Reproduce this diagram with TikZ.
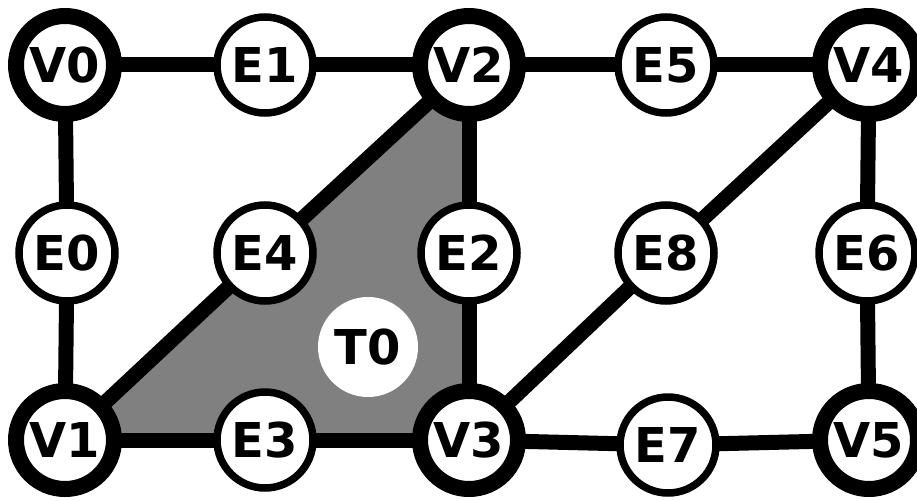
\documentclass[tikz,border=0pt]{standalone}
\usepackage{fontspec}
\setmainfont{DejaVu Sans}
\definecolor{trigray}{RGB}{128,128,128}
\begin{document}
\begin{tikzpicture}[x=1pt,y=-1pt,
  vert/.style={circle,draw=black,fill=white,line width=16pt,minimum size=98pt,inner sep=0pt,font=\fontsize{48}{50}\selectfont\bfseries},
  edg/.style={circle,draw=black,fill=white,line width=7.5pt,minimum size=96pt,inner sep=0pt,font=\fontsize{48}{50}\selectfont\bfseries},
  tri/.style={circle,fill=white,minimum size=100pt,inner sep=0pt,font=\fontsize{48}{50}\selectfont\bfseries},
  link/.style={line width=15pt,black}]
\useasboundingbox (0,0) rectangle (917,500);
\coordinate (cV1) at (65,440);
\coordinate (cV2) at (469,65);
\coordinate (cV3) at (469,440);
\fill[trigray] (cV1) -- (cV2) -- (cV3) -- cycle;
\coordinate (pV0) at (65,65);
\coordinate (pE1) at (265,65);
\coordinate (pE5) at (666,65);
\coordinate (pV4) at (869,65);
\coordinate (pE0) at (67,253);
\coordinate (pE4) at (265,253);
\coordinate (pE2) at (469,253);
\coordinate (pE8) at (666,253);
\coordinate (pE6) at (867,253);
\coordinate (pE3) at (265,440);
\coordinate (pE7) at (668,445);
\coordinate (pV5) at (869,440);
\draw[link] (pV0) -- (pE1) -- (cV2) -- (pE5) -- (pV4);
\draw[link] (pV0) -- (pE0) -- (cV1);
\draw[link] (cV1) -- (pE4) -- (cV2);
\draw[link] (cV2) -- (pE2) -- (cV3);
\draw[link] (cV1) -- (pE3) -- (cV3);
\draw[link] (cV3) -- (pE7) -- (pV5);
\draw[link] (cV3) -- (pE8) -- (pV4);
\draw[link] (pV4) -- (pE6) -- (pV5);
\node[vert] (V0) at (pV0) {V0};
\node[vert] (V1) at (cV1) {V1};
\node[vert] (V2) at (cV2) {V2};
\node[vert] (V3) at (cV3) {V3};
\node[vert] (V4) at (pV4) {V4};
\node[vert] (V5) at (pV5) {V5};
\node[edg] (E0) at (pE0) {E0};
\node[edg] (E1) at (pE1) {E1};
\node[edg] (E2) at (pE2) {E2};
\node[edg] (E3) at (pE3) {E3};
\node[edg] (E4) at (pE4) {E4};
\node[edg] (E5) at (pE5) {E5};
\node[edg] (E6) at (pE6) {E6};
\node[edg] (E7) at (pE7) {E7};
\node[edg] (E8) at (pE8) {E8};
\node[tri] (T0) at (368,347) {T0};
\end{tikzpicture}
\end{document}
